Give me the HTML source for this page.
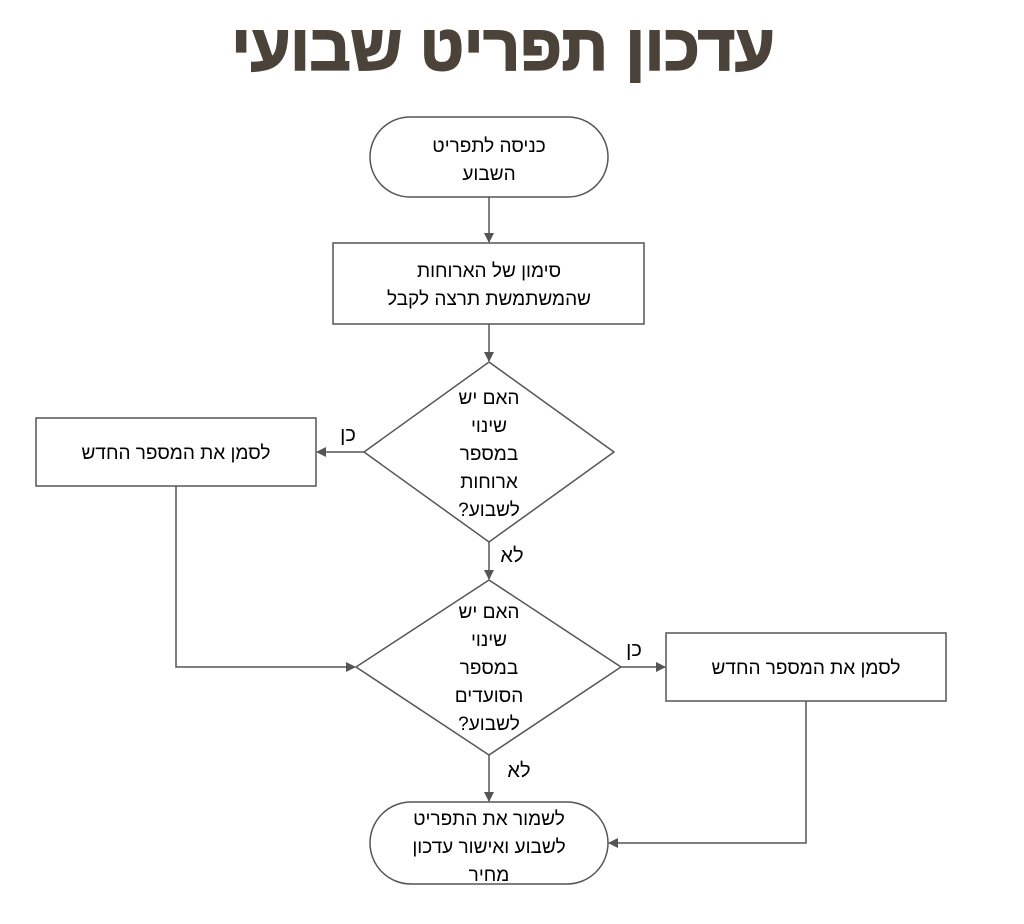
<!DOCTYPE html>
<html><head><meta charset="utf-8"><style>
html,body{margin:0;padding:0;background:#fff;width:1024px;height:924px;overflow:hidden}
svg text{font-family:"Liberation Sans","DejaVu Sans",sans-serif;fill:#000;font-size:19px}
</style></head><body>
<svg width="1024" height="924" viewBox="0 0 1024 924" xmlns="http://www.w3.org/2000/svg">
<defs><marker id="a" markerWidth="10" markerHeight="10" refX="9" refY="5" orient="auto" markerUnits="userSpaceOnUse"><path d="M0,0 L10,5 L0,10 z" fill="#555"/></marker></defs>
<text x="503" y="70" text-anchor="middle" direction="rtl" style="font-size:64px;font-weight:bold;fill:#4b4239;stroke:#4b4239;stroke-width:2">עדכון תפריט שבועי</text>
<g fill="none" stroke="#555" stroke-width="1.5">
<rect x="370" y="117" width="238" height="80" rx="40"/>
<rect x="333" y="243" width="311" height="81"/>
<polygon points="489,362 614,452 489,542 364,452"/>
<rect x="36" y="418" width="280" height="68"/>
<polygon points="489,580 621,667 489,755 356,667"/>
<rect x="666" y="633" width="280" height="68"/>
<rect x="370" y="802" width="238" height="82" rx="41"/>
<line x1="489" y1="197" x2="489" y2="242" marker-end="url(#a)"/>
<line x1="489" y1="324" x2="489" y2="361" marker-end="url(#a)"/>
<line x1="489" y1="542" x2="489" y2="579" marker-end="url(#a)"/>
<line x1="364" y1="452" x2="317" y2="452" marker-end="url(#a)"/>
<polyline points="176,486 176,667 355,667" marker-end="url(#a)"/>
<line x1="621" y1="667" x2="665" y2="667" marker-end="url(#a)"/>
<line x1="489" y1="755" x2="489" y2="801" marker-end="url(#a)"/>
<polyline points="806,701 806,843 609,843" marker-end="url(#a)"/>
</g>
<g text-anchor="middle" direction="rtl">
<text x="489" y="152">כניסה לתפריט</text>
<text x="489" y="180">השבוע</text>
<text x="489" y="277">סימון של הארוחות</text>
<text x="489" y="305">שהמשתמשת תרצה לקבל</text>
<text x="489" y="404">האם יש</text>
<text x="489" y="432">שינוי</text>
<text x="489" y="460">במספר</text>
<text x="489" y="488">ארוחות</text>
<text x="489" y="516">לשבוע?</text>
<text x="176" y="459">לסמן את המספר החדש</text>
<text x="489" y="618">האם יש</text>
<text x="489" y="646">שינוי</text>
<text x="489" y="674">במספר</text>
<text x="489" y="702">הסועדים</text>
<text x="489" y="730">לשבוע?</text>
<text x="806" y="674">לסמן את המספר החדש</text>
<text x="489" y="825">לשמור את התפריט</text>
<text x="489" y="853">לשבוע ואישור עדכון</text>
<text x="489" y="881">מחיר</text>
<text x="348" y="441" style="font-size:20px">כן</text>
<text x="512" y="562" style="font-size:20px">לא</text>
<text x="634" y="656" style="font-size:20px">כן</text>
<text x="519" y="777" style="font-size:20px">לא</text>
</g>
</svg>
</body></html>
